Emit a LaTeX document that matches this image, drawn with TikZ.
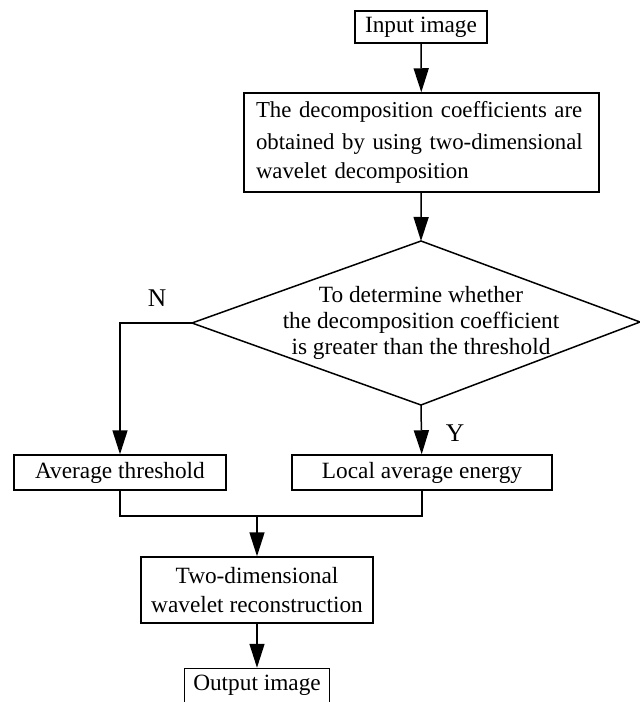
\documentclass[tikz,border=0pt]{standalone}
\usepackage{fontspec}
\setmainfont{Liberation Serif}
\usetikzlibrary{arrows.meta}
\begin{document}
\begin{tikzpicture}[x=1pt,y=-1pt,
  every node/.style={font=\fontsize{23.3}{28.5}\selectfont},
  box/.style={draw,line width=1.5pt,inner sep=0pt,align=center},
  conn/.style={line width=1.5pt},
  arr/.style={conn,-{Triangle[length=24pt,width=15pt]}},
  lbl/.style={inner sep=0pt,font=\fontsize{25.5}{28}\selectfont}]
\useasboundingbox (0,0) rectangle (640,702);
\node[box,minimum width=132pt,minimum height=32pt] (in) at (421,27) {Input image};
\node[box,text width=341pt,inner xsep=7pt,minimum height=99pt,align=left,
  font=\fontsize{22.8}{28.8}\selectfont] (dec) at (421.5,142.5)
  {\vspace*{3pt}\hspace*{5pt}The decomposition coefficients are\\\hspace*{5pt}obtained by using two-dimensional\\\hspace*{5pt}wavelet decomposition};
\coordinate (dt) at (421,241);
\coordinate (dr) at (640,322);
\coordinate (db) at (421,405);
\coordinate (dl) at (192,323);
\draw[conn,line join=miter] (dt) -- (dr) -- (db) -- (dl) -- cycle;
\node[inner sep=0pt,align=center,font=\fontsize{23.3}{26}\selectfont] (dtxt) at (421,323)
  {To determine whether\\the decomposition coefficient\\is greater than the threshold};
\node[box,minimum width=212pt,minimum height=35pt] (avg) at (120,472.5) {Average threshold};
\node[box,minimum width=260pt,minimum height=35pt] (loc) at (422,472.5) {Local average energy};
\node[box,minimum width=232pt,minimum height=66pt,font=\fontsize{23.3}{29}\selectfont] (rec) at (257,590)
  {Two-dimensional\\wavelet reconstruction};
\node[box,minimum width=145pt,minimum height=34pt] (out) at (257,685.5) {Output image};
\node[lbl] (N) at (157,298) {N};
\node[lbl] (Y) at (455,433) {Y};
\coordinate (j) at (257,516);
\draw[arr] (in) -- (dec);
\draw[arr] (dec) -- (dt);
\draw[arr] (dl) -| (avg.north);
\draw[arr] (db) -- (loc);
\draw[conn] (avg.south) |- (j) -| (loc.south);
\draw[arr] (j) -- (rec);
\draw[arr] (rec) -- (out);
\end{tikzpicture}
\end{document}
